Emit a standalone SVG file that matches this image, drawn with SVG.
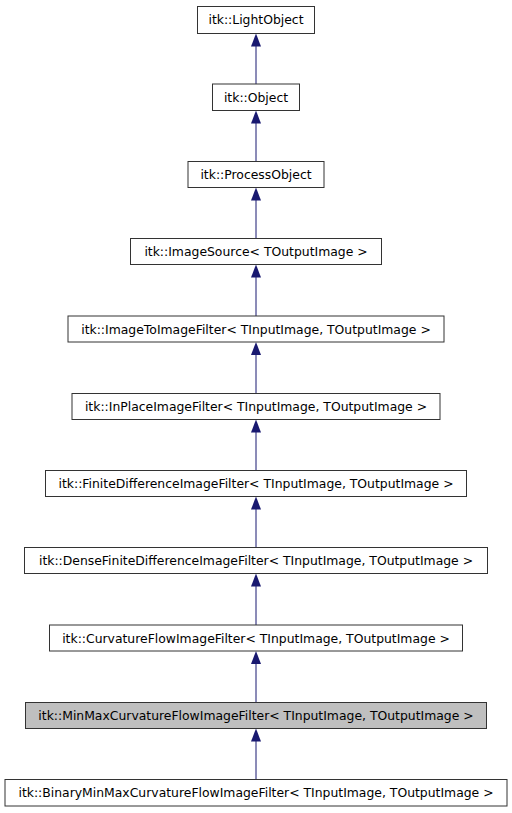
<svg xmlns="http://www.w3.org/2000/svg" width="512" height="813" viewBox="0 0 512 813">
<style>
.box{fill:#ffffff;stroke:#333333;stroke-width:1}
.hl{fill:#bfbfbf}
.lbl{font-family:"DejaVu Sans",sans-serif;font-size:12.4px;fill:#000000;text-anchor:middle}
.edge{stroke:#191970;stroke-width:1;fill:none}
.head{fill:#191970}
</style>
<rect width="512" height="813" fill="#ffffff"/>
<g id="edges">
<line class="edge" x1="256" y1="84" x2="256" y2="46"/>
<path class="head" d="M256,33.5 L251,46.5 L261,46.5 Z"/>
<line class="edge" x1="256" y1="161.5" x2="256" y2="123"/>
<path class="head" d="M256,110.5 L251,123.5 L261,123.5 Z"/>
<line class="edge" x1="256" y1="238.5" x2="256" y2="200"/>
<path class="head" d="M256,187.5 L251,200.5 L261,200.5 Z"/>
<line class="edge" x1="256" y1="316" x2="256" y2="277"/>
<path class="head" d="M256,264.5 L251,277.5 L261,277.5 Z"/>
<line class="edge" x1="256" y1="393.5" x2="256" y2="355"/>
<path class="head" d="M256,342 L251,355 L261,355 Z"/>
<line class="edge" x1="256" y1="470.5" x2="256" y2="432"/>
<path class="head" d="M256,419.5 L251,432.5 L261,432.5 Z"/>
<line class="edge" x1="256" y1="547.5" x2="256" y2="509"/>
<path class="head" d="M256,496.5 L251,509.5 L261,509.5 Z"/>
<line class="edge" x1="256" y1="625" x2="256" y2="586"/>
<path class="head" d="M256,573.5 L251,586.5 L261,586.5 Z"/>
<line class="edge" x1="256" y1="702.5" x2="256" y2="664"/>
<path class="head" d="M256,651 L251,664 L261,664 Z"/>
<line class="edge" x1="256" y1="779.5" x2="256" y2="741"/>
<path class="head" d="M256,728.5 L251,741.5 L261,741.5 Z"/>
</g>
<g id="n_lightobject"><rect class="box" x="197.5" y="6.5" width="117" height="27"/><text class="lbl" x="256" y="24">itk::LightObject</text></g>
<g id="n_object"><rect class="box" x="212.5" y="84" width="87" height="26.5"/><text class="lbl" x="256" y="101.5">itk::Object</text></g>
<g id="n_processobject"><rect class="box" x="188" y="161.5" width="136" height="26"/><text class="lbl" x="256" y="179">itk::ProcessObject</text></g>
<g id="n_imagesource"><rect class="box" x="130.5" y="238.5" width="251" height="26"/><text class="lbl" x="256" y="256">itk::ImageSource&lt; TOutputImage &gt;</text></g>
<g id="n_imagetoimage"><rect class="box" x="68" y="316" width="376" height="26"/><text class="lbl" x="256" y="333.5">itk::ImageToImageFilter&lt; TInputImage, TOutputImage &gt;</text></g>
<g id="n_inplace"><rect class="box" x="72" y="393.5" width="368" height="26"/><text class="lbl" x="256" y="411">itk::InPlaceImageFilter&lt; TInputImage, TOutputImage &gt;</text></g>
<g id="n_finitediff"><rect class="box" x="45.5" y="470.5" width="421" height="26"/><text class="lbl" x="256" y="488">itk::FiniteDifferenceImageFilter&lt; TInputImage, TOutputImage &gt;</text></g>
<g id="n_densefinitediff"><rect class="box" x="24.5" y="547.5" width="463" height="26"/><text class="lbl" x="256" y="565">itk::DenseFiniteDifferenceImageFilter&lt; TInputImage, TOutputImage &gt;</text></g>
<g id="n_curvatureflow"><rect class="box" x="49.5" y="625" width="413" height="26"/><text class="lbl" x="256" y="642.5">itk::CurvatureFlowImageFilter&lt; TInputImage, TOutputImage &gt;</text></g>
<g id="n_minmax"><rect class="box hl" x="25.5" y="702.5" width="461" height="26"/><text class="lbl" x="256" y="720">itk::MinMaxCurvatureFlowImageFilter&lt; TInputImage, TOutputImage &gt;</text></g>
<g id="n_binaryminmax"><rect class="box" x="5" y="779.5" width="502" height="26.5"/><text class="lbl" x="256" y="797">itk::BinaryMinMaxCurvatureFlowImageFilter&lt; TInputImage, TOutputImage &gt;</text></g>
</svg>
